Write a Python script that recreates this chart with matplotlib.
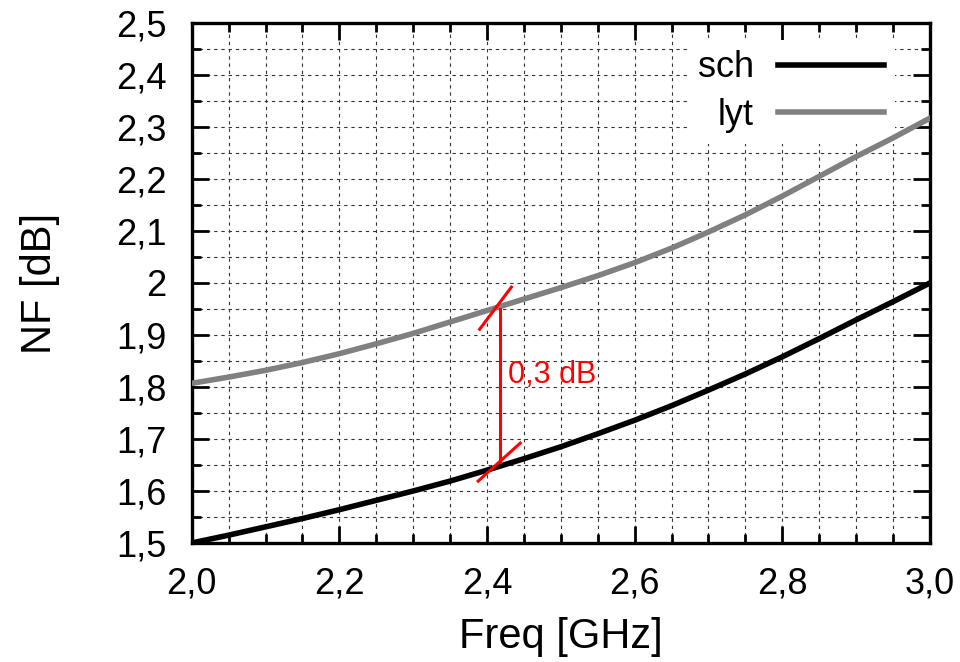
import matplotlib
matplotlib.use('Agg')
import matplotlib.pyplot as plt
from matplotlib.ticker import MultipleLocator

plt.rcParams['font.family'] = ['Liberation Sans', 'DejaVu Sans']

# --- data ---
freq = [2.00, 2.05, 2.10, 2.15, 2.20, 2.25, 2.30, 2.35, 2.40, 2.45, 2.50,
        2.55, 2.60, 2.65, 2.70, 2.75, 2.80, 2.85, 2.90, 2.95, 3.00]
nf_sch = [1.500, 1.515, 1.531, 1.547, 1.564, 1.582, 1.600, 1.619, 1.640, 1.662, 1.685,
          1.710, 1.736, 1.764, 1.794, 1.825, 1.858, 1.893, 1.929, 1.964, 2.000]
nf_lyt = [1.807, 1.819, 1.832, 1.847, 1.864, 1.883, 1.903, 1.925, 1.947, 1.969, 1.991,
          2.014, 2.039, 2.067, 2.098, 2.131, 2.167, 2.205, 2.243, 2.279, 2.317]

xtick_vals = [2.0, 2.2, 2.4, 2.6, 2.8, 3.0]
xtick_labels = ['2,0', '2,2', '2,4', '2,6', '2,8', '3,0']
ytick_vals = [1.5, 1.6, 1.7, 1.8, 1.9, 2.0, 2.1, 2.2, 2.3, 2.4, 2.5]
ytick_labels = ['1,5', '1,6', '1,7', '1,8', '1,9', '2', '2,1', '2,2', '2,3', '2,4', '2,5']

# the red 0,3 dB marker
gap_x = [2.417, 2.417]
gap_y = [1.656, 1.950]
mark_low_x = [2.388, 2.445]
mark_low_y = [1.619, 1.692]
mark_up_x = [2.390, 2.433]
mark_up_y = [1.911, 1.992]
gap_text = '0,3 dB'


def main():
    fig = plt.figure(figsize=(9.6, 6.62), dpi=100)
    ax = fig.add_axes([0.1997, 0.1798, 0.7690, 0.7855])

    # --- curves (above the legend box so the key does not hide them) ---
    ax.plot(freq, nf_sch, color='black', lw=4.0, label='sch', zorder=6)
    ax.plot(freq, nf_lyt, color='#808080', lw=4.0, label='lyt', zorder=6)

    # --- annotation ---
    ax.plot(gap_x, gap_y, color='red', lw=2.2, zorder=7)
    ax.plot(mark_low_x, mark_low_y, color='red', lw=2.2, zorder=7)
    ax.plot(mark_up_x, mark_up_y, color='red', lw=2.2, zorder=7)
    ax.text(2.429, 1.807, gap_text, color='red', fontsize=22, va='baseline', ha='left')

    # --- axes ---
    ax.set_xlim(2.0, 3.0)
    ax.set_ylim(1.5, 2.5)
    ax.set_xticks(xtick_vals, labels=xtick_labels)
    ax.set_yticks(ytick_vals, labels=ytick_labels)
    ax.xaxis.set_minor_locator(MultipleLocator(0.05))
    ax.yaxis.set_minor_locator(MultipleLocator(0.05))
    ax.tick_params(which='major', direction='in', top=True, right=True,
                   length=12, width=2, labelsize=26)
    ax.tick_params(which='minor', direction='in', top=True, right=True,
                   length=6.5, width=2)
    ax.tick_params(axis='x', which='major', pad=17)
    ax.tick_params(axis='y', which='major', pad=18)
    for s in ax.spines.values():
        s.set_linewidth(2.4)

    ax.grid(which='both', color='#333333', lw=0.8, linestyle=(0, (3, 3.5)))
    ax.set_axisbelow(True)

    ax.set_xlabel('Freq [GHz]', fontsize=30)
    ax.set_ylabel('NF [dB]', fontsize=30)
    ax.xaxis.set_label_coords(0.5, -0.142)
    ax.yaxis.set_label_coords(-0.178, 0.5)

    leg = ax.legend(loc='upper right', bbox_to_anchor=(0.953, 0.968), fontsize=26,
                    markerfirst=False, frameon=True, fancybox=False,
                    handlelength=2.96, handletextpad=0.66, labelspacing=0.34,
                    borderpad=0.3, borderaxespad=0)
    leg.get_frame().set_edgecolor('none')
    leg.get_frame().set_facecolor('white')
    leg.get_frame().set_alpha(1)

    plt.savefig('out.png', dpi=100)


main()
